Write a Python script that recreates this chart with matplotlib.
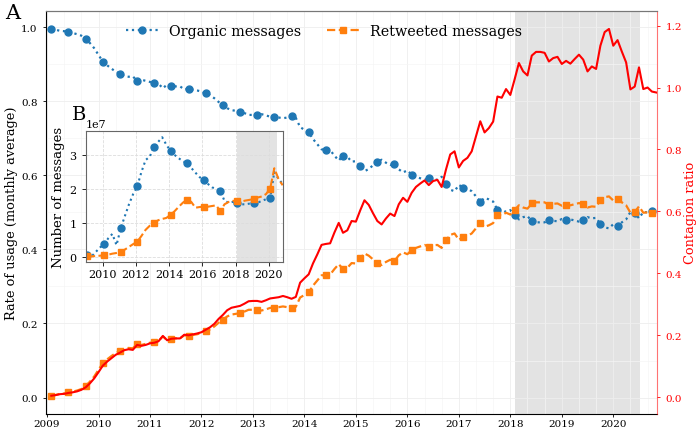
import numpy as np
import matplotlib.pyplot as plt
from matplotlib.ticker import MultipleLocator

plt.rcParams['font.family'] = 'DejaVu Serif'

# monthly averages, Jan 2009 .. Oct 2020 (month-end)
organic = [
    0.995, 0.993, 0.990, 0.989, 0.986, 0.984, 0.981, 0.977, 0.969, 0.957, 0.943, 0.925,
    0.907, 0.897, 0.888, 0.880, 0.874, 0.868, 0.866, 0.867, 0.855, 0.858, 0.855, 0.852,
    0.850, 0.847, 0.835, 0.845, 0.841, 0.840, 0.840, 0.832, 0.833, 0.831, 0.829, 0.826,
    0.821, 0.816, 0.808, 0.798, 0.790, 0.781, 0.776, 0.774, 0.772, 0.768, 0.763, 0.763,
    0.763, 0.765, 0.762, 0.758, 0.757, 0.756, 0.754, 0.756, 0.759, 0.755, 0.730, 0.723,
    0.716, 0.698, 0.684, 0.670, 0.669, 0.668, 0.653, 0.640, 0.653, 0.650, 0.637, 0.638,
    0.624, 0.611, 0.617, 0.627, 0.637, 0.642, 0.634, 0.628, 0.631, 0.616, 0.608, 0.613,
    0.602, 0.596, 0.592, 0.588, 0.593, 0.589, 0.588, 0.596, 0.576, 0.561, 0.557, 0.574,
    0.567, 0.564, 0.557, 0.543, 0.529, 0.539, 0.535, 0.529, 0.507, 0.508, 0.501, 0.506,
    0.494, 0.481, 0.487, 0.490, 0.476, 0.473, 0.473, 0.473, 0.480, 0.477, 0.476, 0.482,
    0.479, 0.481, 0.478, 0.475, 0.478, 0.487, 0.484, 0.485, 0.468, 0.459, 0.457, 0.468,
    0.464, 0.473, 0.481, 0.501, 0.499, 0.484, 0.501, 0.500, 0.503, 0.504]

retweeted = [
    0.005, 0.007, 0.010, 0.011, 0.014, 0.016, 0.019, 0.023, 0.031, 0.043, 0.057, 0.075,
    0.093, 0.103, 0.112, 0.120, 0.126, 0.132, 0.134, 0.133, 0.145, 0.142, 0.145, 0.148,
    0.150, 0.153, 0.165, 0.155, 0.159, 0.160, 0.160, 0.168, 0.167, 0.169, 0.171, 0.174,
    0.179, 0.184, 0.192, 0.202, 0.210, 0.219, 0.224, 0.226, 0.228, 0.232, 0.237, 0.237,
    0.237, 0.235, 0.238, 0.242, 0.243, 0.244, 0.246, 0.244, 0.241, 0.245, 0.270, 0.277,
    0.284, 0.302, 0.316, 0.330, 0.331, 0.332, 0.347, 0.360, 0.347, 0.350, 0.363, 0.362,
    0.376, 0.389, 0.383, 0.373, 0.363, 0.358, 0.366, 0.372, 0.369, 0.384, 0.392, 0.387,
    0.398, 0.404, 0.408, 0.412, 0.407, 0.411, 0.412, 0.404, 0.424, 0.439, 0.443, 0.426,
    0.433, 0.436, 0.443, 0.457, 0.471, 0.461, 0.465, 0.471, 0.493, 0.492, 0.499, 0.494,
    0.506, 0.519, 0.513, 0.510, 0.524, 0.527, 0.527, 0.527, 0.520, 0.523, 0.524, 0.518,
    0.521, 0.519, 0.522, 0.525, 0.522, 0.513, 0.516, 0.515, 0.532, 0.541, 0.543, 0.532,
    0.536, 0.527, 0.519, 0.499, 0.501, 0.516, 0.499, 0.500, 0.497, 0.496]

contagion = [
    0.005, 0.007, 0.010, 0.011, 0.014, 0.016, 0.019, 0.024, 0.032, 0.045, 0.061, 0.081,
    0.102, 0.115, 0.126, 0.137, 0.144, 0.152, 0.155, 0.153, 0.169, 0.166, 0.169, 0.174,
    0.176, 0.181, 0.198, 0.184, 0.189, 0.190, 0.190, 0.202, 0.200, 0.203, 0.206, 0.210,
    0.218, 0.226, 0.237, 0.253, 0.266, 0.281, 0.289, 0.292, 0.295, 0.302, 0.310, 0.311,
    0.311, 0.308, 0.313, 0.319, 0.321, 0.323, 0.327, 0.323, 0.318, 0.324, 0.370, 0.384,
    0.397, 0.432, 0.461, 0.492, 0.495, 0.497, 0.532, 0.563, 0.531, 0.539, 0.569, 0.567,
    0.603, 0.636, 0.621, 0.594, 0.569, 0.558, 0.577, 0.593, 0.585, 0.623, 0.644, 0.631,
    0.660, 0.679, 0.690, 0.700, 0.685, 0.698, 0.702, 0.679, 0.735, 0.784, 0.794, 0.742,
    0.763, 0.773, 0.794, 0.842, 0.891, 0.855, 0.869, 0.890, 0.971, 0.967, 0.995, 0.976,
    1.026, 1.079, 1.052, 1.039, 1.103, 1.115, 1.115, 1.112, 1.084, 1.095, 1.099, 1.076,
    1.086, 1.077, 1.092, 1.106, 1.090, 1.052, 1.068, 1.060, 1.135, 1.179, 1.189, 1.135,
    1.153, 1.116, 1.081, 0.994, 1.003, 1.065, 0.995, 1.000, 0.987, 0.984]

# inset: number of messages (units of 1e7), quarterly
inset_organic = [
    0.07, 0.02, 0.15, 0.28, 0.37, 0.55, 0.68, 0.35, 0.84, 1.20, 1.55, 1.85,
    2.08, 2.50, 2.85, 2.95, 3.23, 3.38, 3.52, 3.30, 3.12, 3.00, 2.90, 2.82,
    2.75, 2.62, 2.48, 2.35, 2.26, 2.15, 2.05, 2.00, 1.95, 1.65, 1.60, 1.62,
    1.60, 1.55, 1.55, 1.57, 1.58, 1.60, 1.65, 1.70, 1.73, 2.50, 2.30, 2.15]
inset_retweeted = [
    0.02, 0.02, 0.03, 0.04, 0.05, 0.07, 0.10, 0.12, 0.15, 0.22, 0.30, 0.38,
    0.45, 0.62, 0.80, 0.92, 0.99, 1.08, 1.12, 1.15, 1.24, 1.35, 1.48, 1.60,
    1.69, 1.62, 1.45, 1.47, 1.48, 1.48, 1.50, 1.52, 1.35, 1.55, 1.62, 1.65,
    1.65, 1.63, 1.66, 1.68, 1.71, 1.75, 1.78, 1.85, 2.01, 2.61, 2.30, 2.11]

year_ticks = list(range(2009, 2021))
inset_year_ticks = [2010, 2012, 2014, 2016, 2018, 2020]
shade_start, shade_end = 2018.09, 2020.52

t = 2009 + (np.arange(len(organic)) + 1) / 12
t_inset = 2009 + (3 * np.arange(len(inset_organic)) + 1) / 12

blue, orange = '#1f77b4', '#ff7f0e'

fig = plt.figure(figsize=(6.97, 4.31), dpi=100)
ax = fig.add_axes([0.066, 0.037, 0.877, 0.936])
ax2 = ax.twinx()

ax.axvspan(shade_start, shade_end, color='gray', alpha=0.22, lw=0, zorder=0)
ax.plot(t, organic, ':', color=blue, lw=1.6, marker='o', ms=5, markevery=4,
        label='Organic messages')
ax.plot(t, retweeted, '--', color=orange, lw=1.6, marker='s', ms=5, markevery=4,
        label='Retweeted messages')
ax2.plot(t, contagion, '-', color='red', lw=1.5)

ax.set_xlim(2008.98, 2020.855)
ax.set_xticks(year_ticks)
ax.xaxis.set_minor_locator(MultipleLocator(1 / 3))
ax.yaxis.set_major_locator(MultipleLocator(0.2))
ax.yaxis.set_minor_locator(MultipleLocator(0.1))
ax.grid(True, which='major', color='#eeeeee', lw=0.6)
ax.grid(True, which='minor', color='#f5f5f5', lw=0.5)
ax.tick_params(labelsize=7.5, length=2.5, width=0.6)
ax.tick_params(axis='x', pad=1.2)
ax.tick_params(which='minor', length=0)
ax.set_ylabel('Rate of usage (monthly average)', fontsize=9.3, labelpad=2)

ax2.yaxis.set_major_locator(MultipleLocator(0.2))
ax2.tick_params(colors='red', labelcolor='red', labelsize=7.5, length=2.5, width=0.6)
ax2.set_ylabel('Contagion ratio', color='red', fontsize=9.3, labelpad=1.5)

for s in ['left', 'bottom']:
    ax.spines[s].set_color('black')
    ax2.spines[s].set_visible(False)
ax.spines['top'].set_color('#777777')
ax2.spines['top'].set_color('#777777')
ax.spines['right'].set_visible(False)
ax2.spines['right'].set_color('red')
ax2.spines['right'].set_alpha(0.55)

ax.legend(loc='upper center', bbox_to_anchor=(0.455, 1.0), ncol=2, frameon=False,
          fontsize=10.3, columnspacing=1.8, handlelength=2.2)

# inset B
axi = fig.add_axes([0.123, 0.389, 0.283, 0.304])
axi.axvspan(shade_start, shade_end, color='gray', alpha=0.22, lw=0, zorder=0)
axi.plot(t_inset, np.array(inset_organic) * 1e7, ':', color=blue, lw=1.5,
         marker='o', ms=5, markevery=4)
axi.plot(t_inset, np.array(inset_retweeted) * 1e7, '--', color=orange, lw=1.5,
         marker='s', ms=5, markevery=4)
axi.set_xlim(2008.98, 2020.855)
axi.set_xticks(inset_year_ticks)
axi.set_yticks([0, 1e7, 2e7, 3e7])
axi.grid(True, color='#dddddd', ls='--', lw=0.6)
axi.tick_params(labelsize=8, length=3, width=0.6)
axi.tick_params(axis='x', pad=2)
axi.yaxis.get_offset_text().set_fontsize(8)
axi.set_ylabel('Number of messages', fontsize=9.5, labelpad=3)
for s in axi.spines.values():
    s.set_color('#666666')

fig.text(0.007, 0.955, 'A', fontsize=15)
fig.text(0.103, 0.722, 'B', fontsize=14)

fig.savefig('out.png', dpi=100)
